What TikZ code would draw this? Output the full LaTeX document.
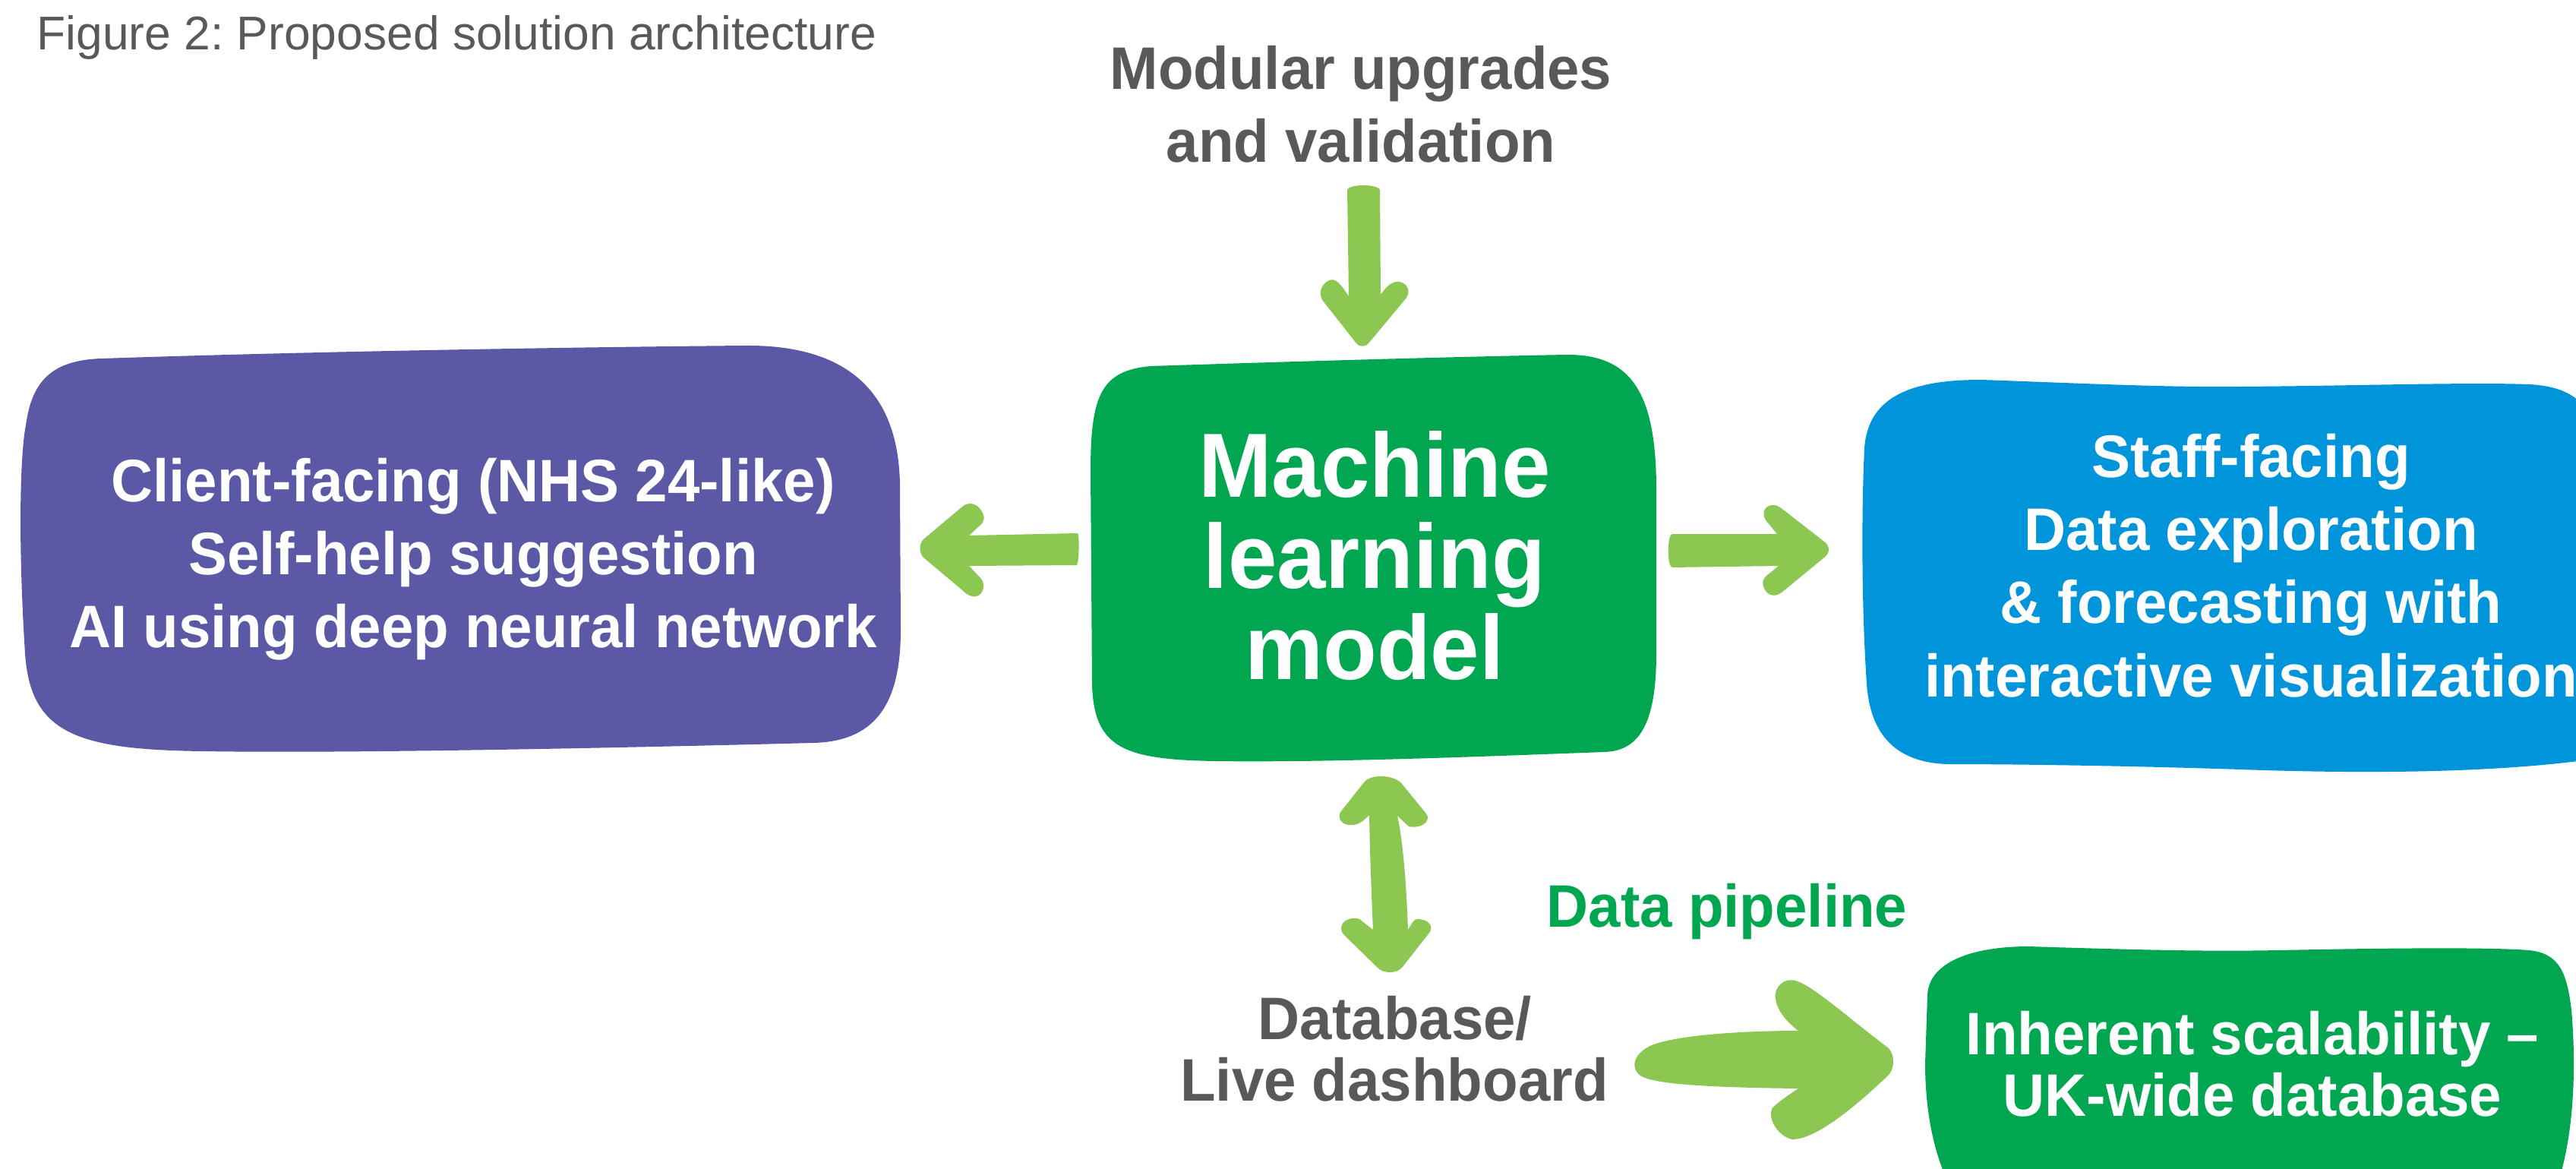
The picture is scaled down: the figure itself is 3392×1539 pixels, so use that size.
\documentclass[tikz,border=0pt]{standalone}
\usepackage{fontspec}
\setmainfont{Liberation Sans}
\newfontfamily\labelfont[FakeStretch=0.965]{Liberation Sans}
\frenchspacing
\definecolor{purplebox}{HTML}{5B58A5}
\definecolor{greenbox}{HTML}{00A650}
\definecolor{bluebox}{HTML}{0095DA}
\definecolor{arrowgreen}{HTML}{8BC751}
\definecolor{textgray}{HTML}{58595B}
\tikzset{
  line/.style={inner sep=0pt, anchor=base, font=\labelfont\bfseries\fontsize{23.7}{28}\selectfont},
  boxline/.style={line, text=white},
  grayline/.style={line, text=textgray},
  bigline/.style={boxline, font=\labelfont\bfseries\fontsize{36}{40}\selectfont},
  blob/.style={draw=none},
  blockarrow/.style={fill=arrowgreen, draw=none},
}
\begin{document}
\begin{tikzpicture}[x=0.3pt,y=-0.3pt]
\useasboundingbox (0,0) rectangle (3392,1539);
\clip (0,0) rectangle (3392,1539);
\fill[white] (0,0) rectangle (3392,1539);

% caption
\node[inner sep=0pt, anchor=base west, text=textgray,
      font=\fontsize{18.7}{22}\selectfont] (caption) at (48,66)
      {Figure 2: Proposed solution architecture};

% client-facing panel
\fill[blob, purplebox] (134,472) .. controls (400,463) and (750,457) .. (982,455)
  .. controls (1120,454) and (1184,520) .. (1185,640)
  -- (1186,830)
  .. controls (1186,930) and (1150,976) .. (1071,978)
  .. controls (800,985) and (450,992) .. (268,989)
  .. controls (100,987) and (40,965) .. (33,860)
  .. controls (24,720) and (26,600) .. (34,560)
  .. controls (42,500) and (70,474) .. (134,472) -- cycle;

% model panel
\fill[blob, greenbox] (1515,482) .. controls (1700,476) and (1900,470) .. (2062,467)
  .. controls (2150,466) and (2180,520) .. (2181,640)
  -- (2181,860)
  .. controls (2181,950) and (2160,989) .. (2112,990)
  .. controls (1950,996) and (1750,1004) .. (1600,1002)
  .. controls (1480,1000) and (1440,985) .. (1438,900)
  -- (1436,620)
  .. controls (1436,520) and (1450,488) .. (1515,482) -- cycle;

% staff-facing panel
\fill[blob, bluebox] (2609,500) .. controls (2750,505) and (2850,510) .. (2950,509)
  .. controls (3100,508) and (3250,503) .. (3330,506)
  .. controls (3370,508) and (3395,520) .. (3410,545)
  -- (3410,1000)
  .. controls (3300,1015) and (3150,1020) .. (2950,1013)
  .. controls (2800,1008) and (2650,1006) .. (2565,1006)
  .. controls (2490,1004) and (2462,960) .. (2458,900)
  .. controls (2450,780) and (2452,650) .. (2455,590)
  .. controls (2460,520) and (2520,500) .. (2609,500) -- cycle;

% scalability panel
\fill[blob, greenbox] (2671,1246) .. controls (2800,1250) and (2900,1253) .. (3000,1251)
  .. controls (3150,1248) and (3280,1247) .. (3330,1251)
  .. controls (3370,1255) and (3380,1280) .. (3386,1330)
  .. controls (3392,1400) and (3390,1480) .. (3372,1545)
  -- (2560,1545)
  .. controls (2542,1500) and (2535,1450) .. (2535,1400)
  -- (2538,1310)
  .. controls (2540,1265) and (2600,1246) .. (2671,1246) -- cycle;

% arrow into the model
\fill[blockarrow] (1774,250) .. controls (1776,242) and (1814,242) .. (1817,250)
  -- (1818,388)
  .. controls (1826,376) and (1834,370) .. (1842,371)
  .. controls (1852,372) and (1858,382) .. (1852,392)
  -- (1802,452) .. controls (1798,457) and (1790,457) .. (1786,452)
  -- (1742,396) .. controls (1735,386) and (1740,374) .. (1750,369)
  .. controls (1758,366) and (1764,372) .. (1776,390) -- cycle;

% arrow to the client-facing panel
\fill[blockarrow] (1420,706) .. controls (1421,712) and (1421,738) .. (1418,744)
  -- (1276,745)
  -- (1292,762) .. controls (1300,772) and (1292,788) .. (1280,785)
  .. controls (1275,784) and (1270,780) .. (1266,776)
  -- (1216,734) .. controls (1210,728) and (1210,716) .. (1216,710)
  -- (1266,668) .. controls (1274,660) and (1286,662) .. (1292,672)
  .. controls (1298,680) and (1296,688) .. (1290,692)
  -- (1276,705) -- (1418,702) .. controls (1420,702) and (1420,704) .. (1420,706) -- cycle;

% arrow to the staff-facing panel
\fill[blockarrow] (2202,703) -- (2340,703)
  -- (2326,686) .. controls (2318,676) and (2324,664) .. (2336,665)
  .. controls (2340,665) and (2344,668) .. (2348,671)
  -- (2402,713) .. controls (2410,719) and (2410,728) .. (2402,734)
  -- (2346,780) .. controls (2336,787) and (2326,784) .. (2322,772)
  .. controls (2320,766) and (2322,762) .. (2326,758)
  -- (2342,745) -- (2202,747)
  .. controls (2195,747) and (2195,703) .. (2202,703) -- cycle;

% two-way arrow between model and database
\fill[blockarrow] (1803,1073) .. controls (1804,1130) and (1806,1180) .. (1808,1224)
  -- (1790,1210) .. controls (1780,1206) and (1766,1212) .. (1766,1222)
  .. controls (1766,1226) and (1768,1229) .. (1770,1231)
  -- (1814,1274) .. controls (1822,1282) and (1838,1282) .. (1846,1274)
  -- (1882,1228) .. controls (1888,1220) and (1882,1210) .. (1866,1210)
  .. controls (1862,1210) and (1860,1214) .. (1854,1224)
  .. controls (1852,1170) and (1848,1110) .. (1840,1074)
  -- (1855,1088) .. controls (1862,1090) and (1876,1088) .. (1879,1080)
  .. controls (1881,1076) and (1880,1074) .. (1877,1070)
  -- (1846,1032) .. controls (1836,1020) and (1806,1018) .. (1796,1030)
  -- (1766,1068) .. controls (1760,1076) and (1766,1088) .. (1782,1086)
  .. controls (1790,1085) and (1796,1080) .. (1803,1073) -- cycle;

% data pipeline arrow
\fill[blockarrow] (2368,1357) .. controls (2300,1357) and (2210,1362) .. (2175,1376)
  .. controls (2148,1388) and (2148,1408) .. (2160,1416)
  .. controls (2180,1430) and (2290,1432) .. (2368,1433)
  .. controls (2350,1445) and (2336,1455) .. (2333,1460)
  .. controls (2328,1475) and (2342,1496) .. (2360,1500)
  .. controls (2390,1500) and (2440,1460) .. (2487,1415)
  .. controls (2495,1405) and (2495,1390) .. (2487,1380)
  .. controls (2440,1345) and (2390,1300) .. (2367,1292)
  .. controls (2350,1285) and (2335,1300) .. (2338,1315)
  .. controls (2340,1330) and (2352,1345) .. (2368,1357) -- cycle;

% labels
\node[grayline] (mod1) at (1792,117) {Modular upgrades};
\node[grayline] (mod2) at (1792,213) {and validation};

\node[boxline] (cli1) at (623,660) {Client-facing (NHS 24-like)};
\node[boxline] (cli2) at (623,756) {Self-help suggestion};
\node[boxline] (cli3) at (623,852) {AI using deep neural network};

\node[bigline] (ml1) at (1810,654) {Machine};
\node[bigline] (ml2) at (1810,774) {learning};
\node[bigline] (ml3) at (1810,894) {model};

\node[boxline] (st1) at (2964,628) {Staff-facing};
\node[boxline] (st2) at (2964,724) {Data exploration};
\node[boxline] (st3) at (2964,820) {\& forecasting with};
\node[boxline] (st4) at (2964,917) {interactive visualization};

\node[line, text=greenbox] (pipe) at (2274,1220) {Data pipeline};

\node[grayline] (db1) at (1837,1368) {Database/};
\node[grayline] (db2) at (1836,1449) {Live dashboard};

\node[boxline] (sc1) at (2966,1388) {Inherent scalability –};
\node[boxline] (sc2) at (2966,1469) {UK-wide database};
\end{tikzpicture}
\end{document}
